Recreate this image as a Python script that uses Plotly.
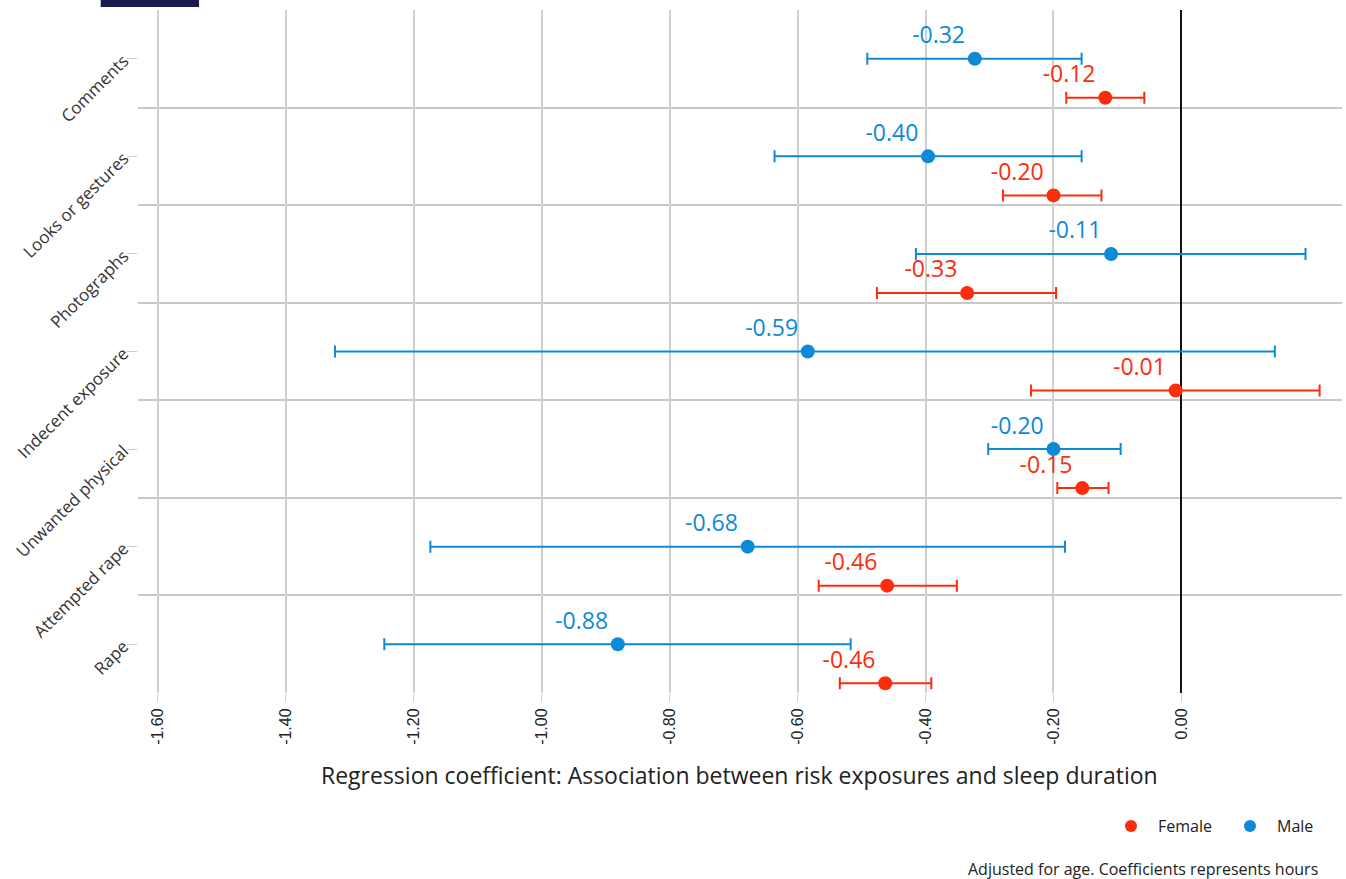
import plotly.graph_objects as go

categories = ["Comments", "Looks or gestures", "Photographs", "Indecent exposure",
              "Unwanted physical", "Attempted rape", "Rape"]

male_coef = [-0.323, -0.396, -0.110, -0.584, -0.200, -0.678, -0.881]
male_low = [-0.491, -0.636, -0.415, -1.323, -0.302, -1.174, -1.246]
male_high = [-0.156, -0.156, 0.194, 0.146, -0.095, -0.182, -0.517]
male_labels = ["-0.32", "-0.40", "-0.11", "-0.59", "-0.20", "-0.68", "-0.88"]

female_coef = [-0.119, -0.200, -0.335, -0.009, -0.155, -0.460, -0.463]
female_low = [-0.180, -0.279, -0.476, -0.235, -0.194, -0.567, -0.534]
female_high = [-0.058, -0.125, -0.196, 0.216, -0.114, -0.351, -0.391]
female_labels = ["-0.12", "-0.20", "-0.33", "-0.01", "-0.15", "-0.46", "-0.46"]

x_ticks = [-1.6, -1.4, -1.2, -1.0, -0.8, -0.6, -0.4, -0.2, 0.0]
x_ticktext = ["-1.60", "-1.40", "-1.20", "-1.00", "-0.80", "-0.60", "-0.40", "-0.20", "0.00"]

BLUE = "#0c8ad8"
RED = "#fb2d0c"

n = len(categories)
male_y = list(range(n))
female_y = [i + 0.4 for i in range(n)]

fig = go.Figure()
fig.add_trace(go.Scatter(
    x=female_coef, y=female_y, mode="markers+text", name="Female",
    marker=dict(color=RED, size=14),
    text=female_labels, textposition="top left",
    textfont=dict(family="Open Sans", size=23, color=RED),
    error_x=dict(type="data", symmetric=False,
                 array=[h - c for h, c in zip(female_high, female_coef)],
                 arrayminus=[c - l for c, l in zip(female_coef, female_low)],
                 color=RED, thickness=2, width=6),
))
fig.add_trace(go.Scatter(
    x=male_coef, y=male_y, mode="markers+text", name="Male",
    marker=dict(color=BLUE, size=14),
    text=male_labels, textposition="top left",
    textfont=dict(family="Open Sans", size=23, color=BLUE),
    error_x=dict(type="data", symmetric=False,
                 array=[h - c for h, c in zip(male_high, male_coef)],
                 arrayminus=[c - l for c, l in zip(male_coef, male_low)],
                 color=BLUE, thickness=2, width=6),
))

fig.update_layout(
    width=1346, height=879,
    margin=dict(l=138, r=4, t=10, b=186),
    plot_bgcolor="white", paper_bgcolor="white",
    showlegend=True,
    legend=dict(orientation="h", x=1.0, xanchor="right", y=-0.195, yanchor="middle",
                font=dict(family="Open Sans", size=16, color="#222"),
                itemsizing="constant", itemwidth=44, entrywidth=60),
    xaxis=dict(range=[-1.631, 0.251], tickvals=x_ticks, ticktext=x_ticktext,
               tickangle=-90, showgrid=True, gridcolor="#d0d0d0", gridwidth=2,
               zeroline=True, zerolinecolor="#111111", zerolinewidth=2,
               ticks="outside", ticklen=8, tickcolor="#d0d0d0",
               tickfont=dict(family="Liberation Sans", size=16, color="#222"),
               showline=False),
    yaxis=dict(range=[n - 0.5, -0.5], tickvals=male_y, ticktext=categories,
               tickangle=-45, showgrid=False, zeroline=False,
               ticks="outside", ticklen=10, tickcolor="#cccccc", tickwidth=1,
               tickfont=dict(family="Open Sans", size=17, color="#333"),
               minor=dict(tickvals=[i + 0.5 for i in range(n - 1)], showgrid=True,
                          gridcolor="#c8c8c8", gridwidth=2, ticks="")),
    annotations=[
        dict(text="Regression coefficient: Association between risk exposures and sleep duration",
             xref="paper", yref="paper", x=0.4995, y=-0.12, xanchor="center", yanchor="middle",
             showarrow=False, font=dict(family="Open Sans", size=23, color="#222")),
        dict(text="Adjusted for age. Coefficients represents hours",
             xref="paper", yref="paper", x=0.9817, y=-0.258, xanchor="right", yanchor="middle",
             showarrow=False, font=dict(family="Open Sans", size=16, color="#222")),
    ],
    shapes=[
        dict(type="rect", xref="paper", yref="paper", x0=-0.031, x1=0.0507,
             y0=(693 - 7) / 683, y1=(693 + 2) / 683, fillcolor="#1b1a4e", line=dict(width=0),
             layer="above"),
    ],
)

fig.write_html("out.html", config={"displayModeBar": False},
               post_script="document.body.style.margin='0';")
